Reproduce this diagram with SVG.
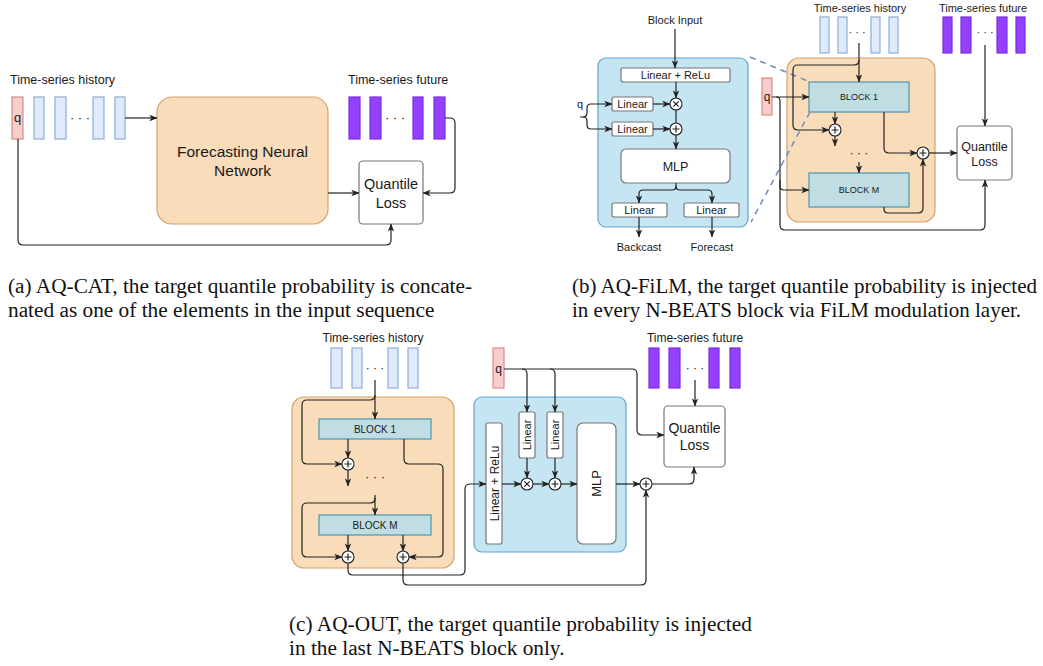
<svg xmlns="http://www.w3.org/2000/svg" width="1043" height="666" viewBox="0 0 1043 666">
<style>
text{font-family:"Liberation Sans",Arial,sans-serif;fill:#1a1a1a}
.c{text-anchor:middle}
.cap{font-family:"Liberation Serif","Times New Roman",serif;font-size:21.3px;fill:#111}
.ln{fill:none;stroke:#222;stroke-width:1.2}
.ar{fill:none;stroke:#222;stroke-width:1.2;marker-end:url(#ah)}
.org{fill:#f9dcba;stroke:#d4a26a;stroke-width:1.2}
.blu{fill:#c5e5f3;stroke:#5ea6cf;stroke-width:1.2}
.blk{fill:#bfdde2;stroke:#4e97ad;stroke-width:1.2}
.wb{fill:#fff;stroke:#777;stroke-width:1.2}
.q{fill:#f8cecc;stroke:#d98a87;stroke-width:1.2}
.h{fill:#dfeafb;stroke:#8eadd8;stroke-width:1.2}
.f{fill:#9340ff;stroke:#7a2ee0;stroke-width:1.2}
.op{fill:#fff;stroke:#222;stroke-width:1.1}
.dash{fill:none;stroke:#6c8ebf;stroke-width:1.5;stroke-dasharray:6 5}
</style>
<defs>
<marker id="ah" viewBox="0 0 10 10" refX="9.5" refY="5" markerWidth="8" markerHeight="8" markerUnits="userSpaceOnUse" orient="auto"><path d="M0,1 L10,5 L0,9 L2.5,5 z" fill="#222"/></marker>
</defs>

<!-- ================= Panel (a) ================= -->
<g id="a-history">
<text x="10" y="84" font-size="12.5">Time-series history</text>
<rect class="h" x="34" y="97" width="10" height="42"/>
<rect class="h" x="55" y="97" width="11" height="42"/>
<text class="c" x="80" y="122" font-size="13">· · ·</text>
<rect class="h" x="93" y="97" width="11" height="42"/>
<rect class="h" x="115" y="97" width="10" height="42"/>
</g>
<g id="a-q"><rect class="q" x="12" y="97" width="11" height="42"/><text class="c" x="17.5" y="122" font-size="13">q</text></g>
<g id="a-nn"><rect class="org" x="157" y="97" width="171" height="127" rx="15"/>
<text class="c" x="242.5" y="157" font-size="15.5">Forecasting Neural</text>
<text class="c" x="242.5" y="176" font-size="15.5">Network</text></g>
<g id="a-future">
<text x="348" y="84" font-size="12.5">Time-series future</text>
<rect class="f" x="349" y="97" width="11" height="42"/>
<rect class="f" x="370" y="97" width="11" height="42"/>
<text class="c" x="395" y="122" font-size="13">· · ·</text>
<rect class="f" x="413" y="97" width="10" height="42"/>
<rect class="f" x="434" y="97" width="11" height="42"/>
</g>
<g id="a-loss"><rect class="wb" x="359" y="161" width="64" height="63" rx="4"/>
<text class="c" x="391" y="189" font-size="14.5">Quantile</text>
<text class="c" x="391" y="208" font-size="14.5">Loss</text></g>

<!-- ================= Panel (b) ================= -->
<g id="b-film">
<rect class="blu" x="598" y="58" width="150" height="169" rx="8"/>
<text class="c" x="675" y="24" font-size="11">Block Input</text>
<rect class="wb" x="621" y="68" width="109" height="14" rx="2"/><text class="c" x="675.5" y="79" font-size="11">Linear + ReLu</text>
<rect class="wb" x="612" y="97" width="41" height="14" rx="2"/><text class="c" x="632.5" y="108" font-size="11">Linear</text>
<rect class="wb" x="612" y="122" width="41" height="14" rx="2"/><text class="c" x="632.5" y="133" font-size="11">Linear</text>
<circle class="op" cx="676" cy="104" r="6"/><path class="ln" d="M673.3,101.3 L678.7,106.7 M678.7,101.3 L673.3,106.7"/>
<circle class="op" cx="676" cy="129" r="6"/><path class="ln" d="M672.5,129 H679.5 M676,125.5 V132.5"/>
<rect class="wb" x="621" y="149" width="109" height="34" rx="5"/><text class="c" x="675.5" y="171" font-size="12.5">MLP</text>
<rect class="wb" x="612" y="203" width="55" height="14" rx="2"/><text class="c" x="639.5" y="214" font-size="11">Linear</text>
<rect class="wb" x="684" y="203" width="55" height="14" rx="2"/><text class="c" x="711.5" y="214" font-size="11">Linear</text>
<text x="577" y="108" font-size="11">q</text>
<text class="c" x="639" y="251" font-size="11">Backcast</text>
<text class="c" x="712" y="251" font-size="11">Forecast</text>
</g>
<g id="b-history">
<text class="c" x="860" y="12" font-size="11">Time-series history</text>
<rect class="h" x="820" y="17" width="9" height="36"/>
<rect class="h" x="838" y="17" width="9" height="36"/>
<text class="c" x="857" y="36" font-size="11">· · ·</text>
<rect class="h" x="871" y="17" width="9" height="36"/>
<rect class="h" x="889" y="17" width="9" height="36"/>
</g>
<g id="b-future">
<text class="c" x="983" y="12" font-size="11">Time-series future</text>
<rect class="f" x="943" y="17" width="9" height="36"/>
<rect class="f" x="961" y="17" width="10" height="36"/>
<text class="c" x="985" y="36" font-size="11">· · ·</text>
<rect class="f" x="997" y="17" width="10" height="36"/>
<rect class="f" x="1016" y="17" width="9" height="36"/>
</g>
<g id="b-q"><rect class="q" x="762" y="78" width="10" height="37"/><text class="c" x="767" y="101" font-size="12">q</text></g>
<g id="b-nbeats">
<rect class="org" x="787" y="58" width="148" height="164" rx="12"/>
<rect class="blk" x="809" y="82" width="100" height="30"/><text class="c" x="859" y="100" font-size="9">BLOCK 1</text>
<rect class="blk" x="809" y="173" width="100" height="34"/><text class="c" x="859" y="193" font-size="9">BLOCK M</text>
<circle class="op" cx="835" cy="130" r="6"/><path class="ln" d="M831.5,130 H838.5 M835,126.5 V133.5"/>
<text class="c" x="859" y="157" font-size="12">· · ·</text>
</g>
<g id="b-sum"><circle class="op" cx="923" cy="153" r="6"/><path class="ln" d="M919.5,153 H926.5 M923,149.5 V156.5"/></g>
<g id="b-loss"><rect class="wb" x="957" y="126" width="55" height="54" rx="4"/>
<text class="c" x="984.5" y="151" font-size="12.5">Quantile</text>
<text class="c" x="984.5" y="166" font-size="12.5">Loss</text></g>

<!-- ================= Panel (c) ================= -->
<g id="c-history">
<text class="c" x="373" y="342" font-size="12">Time-series history</text>
<rect class="h" x="331" y="348" width="11" height="40"/>
<rect class="h" x="352" y="348" width="10" height="40"/>
<text class="c" x="375" y="372" font-size="12">· · ·</text>
<rect class="h" x="388" y="348" width="10" height="40"/>
<rect class="h" x="408" y="348" width="10" height="40"/>
</g>
<g id="c-nbeats">
<rect class="org" x="292" y="397" width="162" height="171" rx="12"/>
<rect class="blk" x="319" y="419" width="112" height="20"/><text class="c" x="375" y="433" font-size="10">BLOCK 1</text>
<rect class="blk" x="319" y="515" width="112" height="20"/><text class="c" x="375" y="529" font-size="10">BLOCK M</text>
<circle class="op" cx="348" cy="464" r="6"/><path class="ln" d="M344.5,464 H351.5 M348,460.5 V467.5"/>
<text class="c" x="375" y="481" font-size="13">· · ·</text>
<circle class="op" cx="348" cy="557" r="6"/><path class="ln" d="M344.5,557 H351.5 M348,553.5 V560.5"/>
<circle class="op" cx="403" cy="557" r="6"/><path class="ln" d="M399.5,557 H406.5 M403,553.5 V560.5"/>
</g>
<g id="c-q"><rect class="q" x="493" y="348" width="11" height="40"/><text class="c" x="498.5" y="373" font-size="12">q</text></g>
<g id="c-film">
<rect class="blu" x="474" y="397" width="152" height="155" rx="8"/>
<rect class="wb" x="486" y="423" width="16" height="121" rx="2"/><text class="c" transform="translate(498.5,483.5) rotate(-90)" font-size="12">Linear + ReLu</text>
<rect class="wb" x="519" y="412" width="16" height="46" rx="2"/><text class="c" transform="translate(531,435) rotate(-90)" font-size="11">Linear</text>
<rect class="wb" x="547" y="412" width="16" height="46" rx="2"/><text class="c" transform="translate(559,435) rotate(-90)" font-size="11">Linear</text>
<circle class="op" cx="527" cy="484" r="6"/><path class="ln" d="M524.3,481.3 L529.7,486.7 M529.7,481.3 L524.3,486.7"/>
<circle class="op" cx="555" cy="484" r="6"/><path class="ln" d="M551.5,484 H558.5 M555,480.5 V487.5"/>
<rect class="wb" x="577" y="423" width="39" height="121" rx="6"/><text class="c" transform="translate(601,483.5) rotate(-90)" font-size="13">MLP</text>
</g>
<g id="c-sum"><circle class="op" cx="646" cy="484" r="6"/><path class="ln" d="M642.5,484 H649.5 M646,480.5 V487.5"/></g>
<g id="c-future">
<text class="c" x="695" y="342" font-size="12">Time-series future</text>
<rect class="f" x="649" y="348" width="10" height="40"/>
<rect class="f" x="669" y="348" width="11" height="40"/>
<text class="c" x="695" y="372" font-size="12">· · ·</text>
<rect class="f" x="709" y="348" width="10" height="40"/>
<rect class="f" x="730" y="348" width="10" height="40"/>
</g>
<g id="c-loss"><rect class="wb" x="664" y="406" width="61" height="61" rx="4"/>
<text class="c" x="694.5" y="433" font-size="14">Quantile</text>
<text class="c" x="694.5" y="450" font-size="14">Loss</text></g>

<!-- ================= Connectors ================= -->
<g id="connectors">
<!-- a -->
<path class="ar" d="M125,118 H157"/>
<path class="ar" d="M328,193 H359"/>
<path class="ar" d="M445,118 H450 Q455,118 455,123 V188 Q455,193 450,193 H423"/>
<path class="ar" d="M18,139 V240 Q18,245 23,245 H386 Q391,245 391,240 V224"/>
<!-- b film -->
<path class="ar" d="M675,29 V68"/>
<path class="ar" d="M676,82 V98"/>
<path class="ln" d="M676,110 V123"/>
<path class="ar" d="M676,135 V149"/>
<path class="ar" d="M653,104 H670"/>
<path class="ar" d="M653,129 H670"/>
<path class="ln" d="M580,117 H583 Q587,117 587,113"/>
<path class="ar" d="M587,113 V108 Q587,104 591,104 H612"/>
<path class="ar" d="M583,117 Q587,117 587,121 V125 Q587,129 591,129 H612"/>
<path class="ln" d="M676,183 V186"/>
<path class="ar" d="M676,186 Q676,190 672,190 H643 Q639,190 639,194 V203"/>
<path class="ar" d="M676,186 Q676,190 680,190 H708 Q712,190 712,194 V203"/>
<path class="ar" d="M639,217 V237"/>
<path class="ar" d="M712,217 V237"/>
<path class="dash" d="M750,57 L810,82"/>
<path class="dash" d="M810,112 L751,222"/>
<!-- b nbeats -->
<path class="ar" d="M859,43 V82"/>
<path class="ar" d="M859,60 Q859,65 854,65 H798 Q793,65 793,70 V125 Q793,130 798,130 H829"/>
<path class="ar" d="M835,112 V124"/>
<path class="ar" d="M835,136 V146"/>
<path class="ar" d="M859,162 V173"/>
<path class="ar" d="M772,97 H809"/>
<path class="ar" d="M776,97 Q780,97 780,101 V186 Q780,190 784,190 H809"/>
<path class="ar" d="M780,180 V225 Q780,230 785,230 H980 Q985,230 985,225 V180"/>
<path class="ar" d="M884,112 V148 Q884,153 889,153 H917"/>
<path class="ar" d="M884,207 V209 Q884,213 888,213 H918 Q923,213 923,208 V159"/>
<path class="ar" d="M929,153 H957"/>
<path class="ar" d="M985,45 V126"/>
<!-- c nbeats -->
<path class="ar" d="M375,380 V419"/>
<path class="ar" d="M375,395 Q375,400 370,400 H307 Q302,400 302,405 V459 Q302,464 307,464 H342"/>
<path class="ar" d="M348,439 V458"/>
<path class="ar" d="M348,470 V486"/>
<path class="ar" d="M375,495 V515"/>
<path class="ar" d="M375,498 Q375,503 370,503 H307 Q302,503 302,508 V552 Q302,557 307,557 H342"/>
<path class="ar" d="M348,535 V551"/>
<path class="ar" d="M403,535 V551"/>
<path class="ar" d="M404,439 V459 Q404,464 409,464 H438 Q443,464 443,469 V552 Q443,557 438,557 H409"/>
<path class="ar" d="M348,563 V570 Q348,575 353,575 H460 Q465,575 465,570 V489 Q465,484 470,484 H486"/>
<path class="ar" d="M403,563 V580 Q403,585 408,585 H641 Q646,585 646,580 V490"/>
<!-- c film -->
<path class="ar" d="M502,484 H521"/>
<path class="ar" d="M533,484 H549"/>
<path class="ar" d="M561,484 H577"/>
<path class="ar" d="M527,458 V478"/>
<path class="ar" d="M555,458 V478"/>
<path class="ar" d="M616,484 H640"/>
<path class="ar" d="M504,369 H522 Q527,369 527,374 V412"/>
<path class="ar" d="M522,369 H550 Q555,369 555,374 V412"/>
<path class="ar" d="M550,369 H632 Q637,369 637,374 V430 Q637,435 642,435 H664"/>
<path class="ar" d="M652,484 H689 Q694,484 694,479 V467"/>
<path class="ar" d="M695,380 V406"/>
</g>

<!-- ================= Captions ================= -->
<g id="captions">
<text class="cap" x="8" y="293">(a) AQ-CAT, the target quantile probability is concate-</text>
<text class="cap" x="8" y="317">nated as one of the elements in the input sequence</text>
<text class="cap" x="572" y="293" font-size="21px" style="font-size:21px">(b) AQ-FiLM, the target quantile probability is injected</text>
<text class="cap" x="572" y="317" style="font-size:21px">in every N-BEATS block via FiLM modulation layer.</text>
<text class="cap" x="289" y="631">(c) AQ-OUT, the target quantile probability is injected</text>
<text class="cap" x="289" y="655">in the last N-BEATS block only.</text>
</g>
</svg>
